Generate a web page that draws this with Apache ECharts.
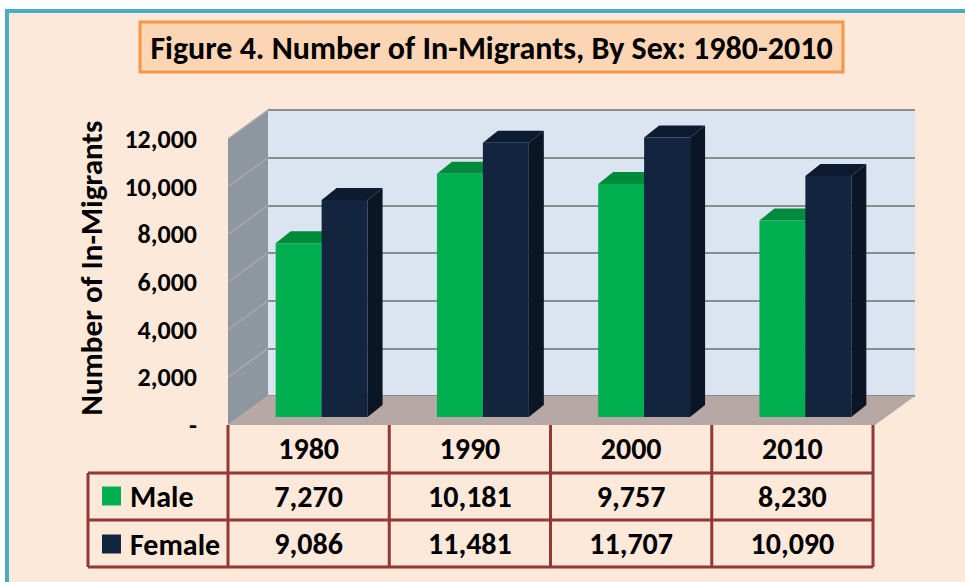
<!DOCTYPE html>
<html><head><meta charset="utf-8">
<script src="https://cdn.jsdelivr.net/npm/echarts@6/dist/echarts.min.js"></script>
<style>html,body{margin:0;padding:0;background:#fff;}#c{width:965px;height:582px;}</style>
</head><body><div id="c"></div>
<script>
// ---- data ----
const years = ['1980', '1990', '2000', '2010'];
const male = [7270, 10181, 9757, 8230];
const female = [9086, 11481, 11707, 10090];
const yTicks = [0, 2000, 4000, 6000, 8000, 10000, 12000];
const titleText = 'Figure 4. Number of In-Migrants, By Sex: 1980-2010';
const yName = 'Number of In-Migrants';

// ---- layout / style ----
const FONT = 'Carlito, Lato, sans-serif';
const W = 965, H = 582;
const FL = 228, FB = 425, FT = 139;      // front plane: left, bottom(0), top(12000)
const DX = 40, DY = 29;                   // wall depth
const FR = 875;                           // floor front right
const TR = 873;                           // table right
const ROWS = [425, 473, 520, 567];
const LEGL = 88;
const BDX = 15, BDY = 12;                 // bar depth
const BAR_FRAC = 0.285;
const GREEN = '#00b050', GREEN_TOP = '#008a3c', GREEN_SIDE = '#006b2e';
const NAVY = '#13243f', NAVY_TOP = '#0d1b31', NAVY_SIDE = '#0a1526';
const RED = '#953735';

const fmt = v => v === 0 ? '-' : v.toLocaleString('en-US');

function bar3D(side, face, top, sideC) {
  return function (params, api) {
    const c = api.value(0), v = api.value(1);
    const p = api.coord([c, v]);
    const b = api.coord([c, 0]);
    const band = api.size([1, 0])[0];
    const w = band * BAR_FRAC;
    const x0 = side === 0 ? p[0] - w : p[0];
    const x1 = x0 + w, y0 = p[1], y1 = b[1];
    return {
      type: 'group', children: [
        { type: 'polygon', shape: { points: [[x1, y1], [x1, y0], [x1 + BDX, y0 - BDY], [x1 + BDX, y1 - BDY]] }, style: { fill: sideC } },
        { type: 'polygon', shape: { points: [[x0, y0], [x0 + BDX, y0 - BDY], [x1 + BDX, y0 - BDY], [x1, y0]] }, style: { fill: top } },
        { type: 'rect', shape: { x: x0, y: y0, width: w, height: y1 - y0 }, style: { fill: face } }
      ]
    };
  };
}

// decorative walls / frame / table borders
const k = (FB - FT) / 12000;
const graphics = [
  { type: 'rect', z: -10, shape: { x: 7, y: 11, width: 1000, height: 1000 }, style: { fill: '#fde9d9', stroke: '#4bacc6', lineWidth: 4 } },
  { type: 'rect', z: 5, shape: { x: 140, y: 22, width: 703, height: 50 }, style: { fill: '#fcd5b4', stroke: '#f79646', lineWidth: 3 } },
  { type: 'text', z: 6, x: 491.5, y: 48, style: { text: titleText, font: 'bold 32px ' + FONT, fill: '#000', align: 'center', verticalAlign: 'middle' } },
  { type: 'polygon', z: 1, shape: { points: [[FL, FB], [FL, FT], [FL + DX, FT - DY], [FL + DX, FB - DY]] }, style: { fill: '#8e969f' } },
  { type: 'polygon', z: 1, shape: { points: [[FL, FB], [FL + DX, FB - DY], [FR + DX, FB - DY], [FR, FB]] }, style: { fill: '#b7a8a5' } }
];
yTicks.slice(1).forEach(v => {
  graphics.push({ type: 'line', z: 1, shape: { x1: FL, y1: FB - v * k, x2: FL + DX, y2: FB - DY - v * k }, style: { stroke: '#a3a9b0', lineWidth: 1.5 } });
});
// table borders
const colW = (TR - FL) / years.length;
for (let i = 0; i <= years.length; i++) {
  const x = FL + i * colW;
  graphics.push({ type: 'line', z: 3, shape: { x1: x, y1: ROWS[0], x2: x, y2: ROWS[3] }, style: { stroke: RED, lineWidth: 3 } });
}
for (let r = 1; r < ROWS.length; r++) {
  graphics.push({ type: 'line', z: 3, shape: { x1: LEGL, y1: ROWS[r], x2: TR, y2: ROWS[r] }, style: { stroke: RED, lineWidth: 3 } });
}
graphics.push({ type: 'line', z: 3, shape: { x1: LEGL, y1: ROWS[1], x2: LEGL, y2: ROWS[3] }, style: { stroke: RED, lineWidth: 3 } });

const tableLabel = {
  show: true, margin: 0, fontFamily: FONT, fontWeight: 'bold', fontSize: 30, color: '#000', lineHeight: 47
};
const hiddenX = { axisLine: { show: false }, axisTick: { show: false }, splitLine: { show: false } };

const chart = echarts.init(document.getElementById('c'), null, { renderer: 'svg' });
chart.setOption({
  backgroundColor: '#ffffff',
  animation: false,
  graphic: graphics,
  legend: {
    orient: 'vertical', left: 97, top: 476, itemWidth: 19, itemHeight: 19, itemGap: 18,
    icon: 'rect', data: ['Male', 'Female'],
    textStyle: { fontFamily: FONT, fontWeight: 'bold', fontSize: 30, lineHeight: 30, color: '#000', padding: [0, 0, 0, 4] }
  },
  grid: [
    { left: FL + 13, right: W - (TR + 13), top: 130.4, bottom: H - 417 },
    { left: FL + DX, right: W - (FR + DX), top: FT - DY, bottom: H - (FB - DY), show: true, backgroundColor: '#dbe5f1', borderWidth: 0 },
    { left: FL, right: W - TR, top: FT, bottom: H - FB }
  ],
  xAxis: [
    { type: 'category', gridIndex: 0, data: years, show: false },
    { type: 'category', gridIndex: 1, data: years, show: false },
    Object.assign({ type: 'category', gridIndex: 2, data: years, position: 'bottom', offset: 0, axisLabel: tableLabel }, hiddenX),
    Object.assign({ type: 'category', gridIndex: 2, data: male.map(fmt), position: 'bottom', offset: 48, axisLabel: tableLabel }, hiddenX),
    Object.assign({ type: 'category', gridIndex: 2, data: female.map(fmt), position: 'bottom', offset: 95, axisLabel: tableLabel }, hiddenX)
  ],
  yAxis: [
    { type: 'value', gridIndex: 0, min: 0, max: 12000, show: false },
    { type: 'value', gridIndex: 1, min: 0, max: 12000, interval: 2000, axisLine: { show: false }, axisTick: { show: false }, axisLabel: { show: false },
      splitLine: { show: true, lineStyle: { color: '#8c8c8c', width: 2 } } },
    { type: 'value', gridIndex: 2, min: 0, max: 12000, interval: 2000, axisLine: { show: false }, axisTick: { show: false }, splitLine: { show: false },
      axisLabel: { formatter: fmt, margin: 31, fontFamily: FONT, fontWeight: 'bold', fontSize: 26, color: '#000' },
      name: yName, nameLocation: 'middle', nameGap: 122, nameRotate: 90,
      nameTextStyle: { fontFamily: FONT, fontWeight: 'bold', fontSize: 31, color: '#000', padding: [0, 0, 0, 28] } }
  ],
  series: [
    { name: 'Male', type: 'custom', xAxisIndex: 0, yAxisIndex: 0, z: 2, itemStyle: { color: GREEN },
      renderItem: bar3D(0, GREEN, GREEN_TOP, GREEN_SIDE), data: male.map((v, i) => [i, v]) },
    { name: 'Female', type: 'custom', xAxisIndex: 0, yAxisIndex: 0, z: 2, itemStyle: { color: NAVY },
      renderItem: bar3D(1, NAVY, NAVY_TOP, NAVY_SIDE), data: female.map((v, i) => [i, v]) }
  ]
});
</script></body></html>
